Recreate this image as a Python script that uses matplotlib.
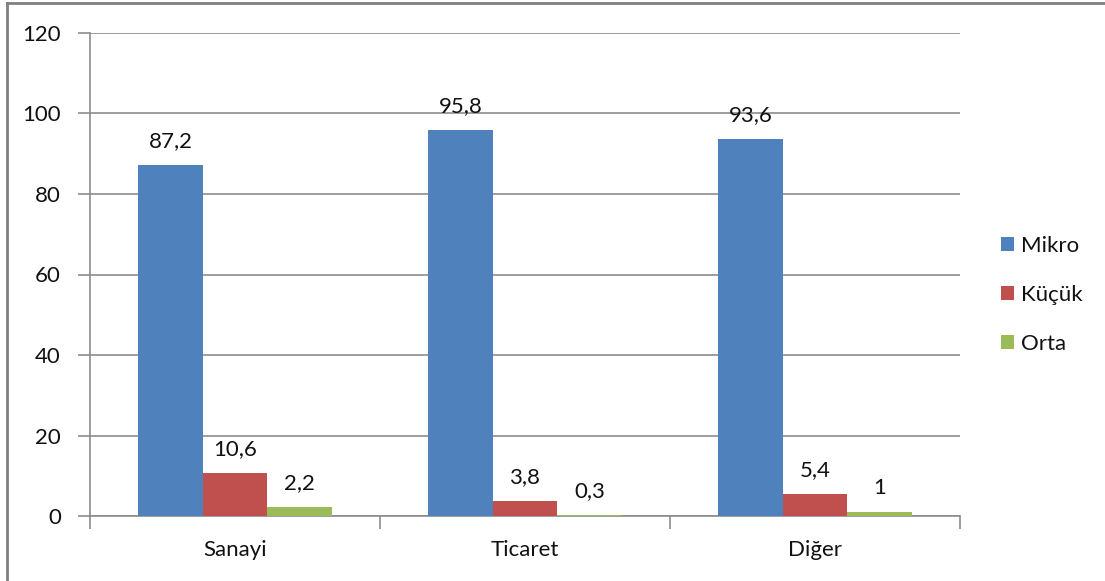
import matplotlib
matplotlib.use("Agg")
from matplotlib import pyplot as plt
from matplotlib.lines import Line2D
import numpy as np

plt.rcParams['font.family'] = ['Lato', 'DejaVu Sans']

#------------------------------------------#
# Data
#------------------------------------------#
categories = ["Sanayi", "Ticaret", "Diğer"]
series_names = ["Mikro", "Küçük", "Orta"]
mikro = [87.2, 95.8, 93.6]
kucuk = [10.6, 3.8, 5.4]
orta = [2.2, 0.3, 1.0]
labels = [["87,2", "95,8", "93,6"],
          ["10,6", "3,8", "5,4"],
          ["2,2", "0,3", "1"]]
colors = ["#4F81BD", "#C0504D", "#9BBB59"]
grid_col = "#8C8C8C"
txt_col = "#111111"
fs = 16

#------------------------------------------#
# Figure
#------------------------------------------#
fig = plt.figure(figsize=(11.05, 5.81), dpi=100)
ax = fig.add_axes([90/1105, 1-516/581, 870/1105, 483/581])

x = np.arange(len(categories))
w = 0.2224
for i, vals in enumerate([mikro, kucuk, orta]):
    bars = ax.bar(x + (i-1)*w, vals, w, color=colors[i], label=series_names[i], zorder=3)
    for b, t in zip(bars, labels[i]):
        ax.annotate(t, (b.get_x() + b.get_width()/2, b.get_height()),
                    xytext=(0, 10), textcoords="offset points",
                    ha="center", va="bottom", fontsize=fs, color=txt_col)

ax.set_xlim(-0.5, 2.5)
ax.set_ylim(0, 120)
ax.set_yticks(range(0, 121, 20))
ax.yaxis.grid(True, color=grid_col, lw=1.2, zorder=0)
ax.set_xticks([-0.5, 0.5, 1.5, 2.5])
ax.set_xticklabels([])
ax.set_xticks(x, minor=True)
ax.set_xticklabels(categories, minor=True, fontsize=fs, color=txt_col)
ax.tick_params(axis="x", which="minor", length=0, pad=17)
ax.tick_params(axis="x", which="major", length=9, color=grid_col, width=1.2)
ax.tick_params(axis="y", length=9, color=grid_col, width=1.2, labelsize=fs,
               labelcolor=txt_col, pad=12)
for s in ["top", "right"]:
    ax.spines[s].set_visible(False)
for s in ["left", "bottom"]:
    ax.spines[s].set_color(grid_col)
    ax.spines[s].set_linewidth(1.2)

leg = fig.legend(loc="upper left", bbox_to_anchor=(990/1105, 1-225/581),
                 frameon=False, fontsize=fs, handlelength=0.6, handleheight=0.6,
                 handletextpad=0.3, labelspacing=1.3, borderpad=0)
for t in leg.get_texts():
    t.set_color(txt_col)

# outer border
fig.add_artist(Line2D([7/1105, 7/1105], [0, 1-3/581], color="#808080", lw=2))
fig.add_artist(Line2D([7/1105, 1], [1-3/581, 1-3/581], color="#808080", lw=2))

fig.savefig("out.png", dpi=100)
